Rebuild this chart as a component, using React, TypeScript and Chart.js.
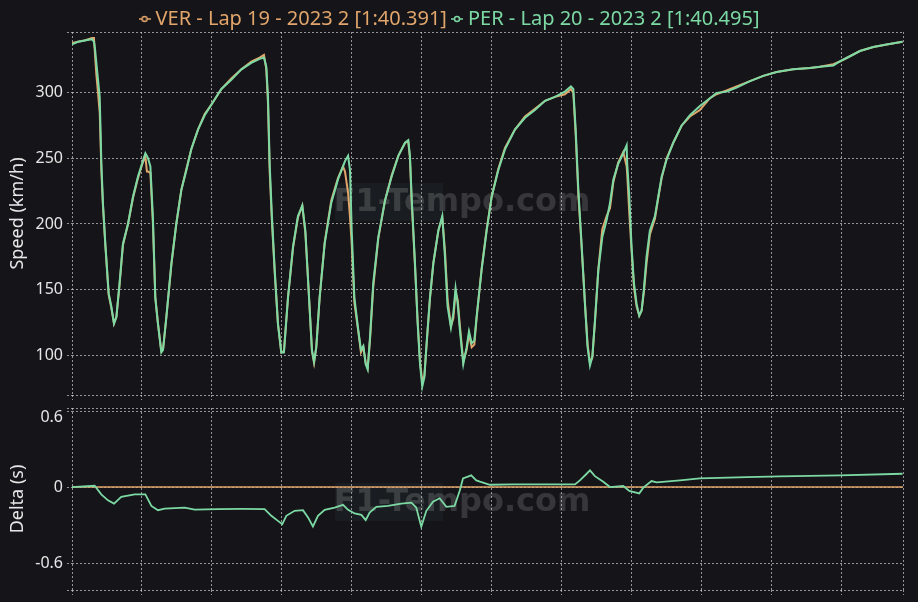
import React, { useEffect, useRef } from 'react';
import { Chart, registerables } from 'chart.js';

Chart.register(...registerables);

// ---------- data ----------
const LAP_LENGTH = 5936;
const distanceTicks = [0, 500, 1000, 1500, 2000, 2500, 3000, 3500, 4000, 4500, 5000, 5500];
const speedTicks = [100, 150, 200, 250, 300];
const deltaTicks = [-0.6, 0, 0.6];

const seriesLabels = ['VER - Lap 19 - 2023 2 [1:40.391]', 'PER - Lap 20 - 2023 2 [1:40.495]'];

const distance = [
  0, 43, 90, 143, 157, 165, 174, 186, 198, 210, 221, 238, 262, 281, 300, 317, 340, 364, 400, 436,
  471, 500, 524, 535, 543, 560, 578, 595, 614, 638, 650, 674, 710, 745, 781, 817, 852, 900, 948, 995,
  1067, 1138, 1210, 1281, 1340, 1371, 1388, 1400, 1412, 1428, 1448, 1471, 1495, 1514, 1543, 1579, 1614, 1645, 1667, 1690,
  1714, 1729, 1745, 1769, 1805, 1852, 1900, 1936, 1950, 1972, 1986, 1998, 2017, 2045, 2064, 2081, 2098, 2112, 2129, 2152,
  2188, 2236, 2283, 2331, 2379, 2402, 2414, 2426, 2450, 2469, 2486, 2502, 2517, 2533, 2557, 2581, 2617, 2645, 2664, 2683,
  2707, 2724, 2740, 2755, 2771, 2795, 2819, 2836, 2855, 2874, 2890, 2926, 2962, 2998, 3045, 3093, 3164, 3236, 3307, 3379,
  3450, 3521, 3564, 3581, 3598, 3617, 3640, 3664, 3683, 3700, 3717, 3736, 3760, 3788, 3819, 3843, 3867, 3902, 3938, 3962,
  3966, 3981, 3997, 4014, 4033, 4052, 4069, 4085, 4104, 4128, 4164, 4188, 4212, 4247, 4295, 4354, 4414, 4485, 4557, 4604,
  4676, 4747, 4843, 4938, 5033, 5152, 5271, 5343, 5438, 5485, 5557, 5628, 5724, 5819, 5933,
];

const verSpeed = [
  338, 339, 340, 342, 342, 328, 314, 300, 285, 240, 214, 184, 146, 136, 124, 129, 154, 184, 200, 220,
  235, 245, 252, 240, 240, 239, 200, 144, 124, 103, 104, 129, 169, 200, 226, 242, 257, 272, 284, 291,
  303, 311, 318, 324, 327, 329, 318, 292, 240, 202, 163, 124, 102, 103, 144, 182, 205, 214, 193, 150,
  103, 94, 106, 144, 186, 218, 235, 244, 240, 224, 205, 185, 140, 118, 102, 106, 94, 90, 112, 152,
  189, 218, 237, 252, 262, 263, 250, 218, 168, 126, 95, 80, 84, 108, 143, 170, 195, 205, 180, 142,
  122, 128, 148, 142, 122, 95, 104, 116, 106, 108, 128, 166, 196, 221, 242, 258, 272, 282, 288, 294,
  297, 299, 303, 300, 268, 222, 183, 140, 108, 94, 98, 126, 166, 196, 206, 212, 232, 247, 255, 244,
  238, 208, 180, 152, 137, 130, 134, 148, 170, 192, 204, 220, 235, 250, 262, 275, 282, 287, 296, 299,
  302, 305, 309, 313, 316, 318, 319, 320, 322, 324, 328, 332, 335, 337, 339,
];

const perSpeed = [
  337, 339, 340, 341, 339, 333, 323, 310, 297, 246, 216, 185, 147, 137, 124, 129, 155, 185, 200, 221,
  236, 246, 254, 252, 250, 244, 205, 144, 124, 102, 104, 129, 170, 200, 226, 241, 257, 272, 283, 291,
  303, 310, 318, 323, 326, 327, 320, 297, 246, 206, 165, 124, 102, 102, 144, 183, 206, 214, 195, 150,
  104, 95, 106, 144, 185, 216, 234, 244, 248, 252, 241, 195, 144, 119, 104, 107, 93, 89, 114, 155,
  190, 218, 236, 252, 262, 264, 252, 221, 170, 124, 93, 76, 83, 109, 144, 170, 195, 206, 175, 137,
  121, 132, 151, 139, 119, 93, 106, 118, 109, 111, 129, 165, 195, 221, 241, 257, 272, 281, 287, 294,
  297, 301, 305, 303, 272, 226, 185, 139, 106, 92, 99, 127, 165, 190, 203, 216, 234, 246, 254, 260,
  246, 221, 183, 155, 139, 130, 134, 150, 175, 195, 206, 221, 236, 249, 262, 275, 283, 290, 296, 300,
  301, 304, 309, 313, 316, 318, 319, 320, 321, 324, 328, 332, 335, 337, 339,
];

const deltaDistance = [
  0, 162, 209, 257, 300, 352, 448, 524, 567, 614, 662, 805, 876, 1043, 1210, 1376, 1424, 1471, 1502, 1531,
  1590, 1650, 1686, 1721, 1757, 1805, 1876, 1936, 1972, 2019, 2067, 2098, 2126, 2174, 2257, 2352, 2424, 2459, 2495, 2531,
  2579, 2626, 2674, 2733, 2769, 2793, 2852, 2888, 2914, 2985, 3152, 3390, 3593, 3628, 3671, 3700, 3735, 3795, 3843, 3938,
  3981, 4052, 4081, 4140, 4176, 4343, 4485, 4819, 5057, 5486, 5933,
];

const perDelta = [
  0, 0.01, -0.058, -0.105, -0.131, -0.078, -0.058, -0.058, -0.149, -0.183, -0.17, -0.162, -0.178, -0.175, -0.173, -0.175, -0.227, -0.267, -0.293, -0.227,
  -0.188, -0.183, -0.24, -0.311, -0.227, -0.18, -0.162, -0.141, -0.18, -0.209, -0.22, -0.261, -0.201, -0.157, -0.149, -0.131, -0.123, -0.162, -0.314, -0.188,
  -0.115, -0.089, -0.157, -0.149, -0.031, 0.068, 0.092, 0.052, 0.042, 0.018, 0.021, 0.021, 0.021, 0.052, 0.099, 0.131, 0.086, 0.042, 0, 0.008,
  -0.031, -0.05, -0.005, 0.047, 0.037, 0.052, 0.068, 0.078, 0.084, 0.092, 0.105,
];

const verDeltaDistance = [0, LAP_LENGTH];
const verDelta = [0, 0];

// ---------- styles ----------
const BG = '#151519';
const GRID = 'rgba(200,200,200,0.72)';
const TEXT = '#e6e6e6';
const VER_C = '#e2a56b';
const PER_C = '#7cd9a4';
const FONT = '"Noto Sans", "Open Sans", sans-serif';

function makeMarker(color: string) {
  const c = document.createElement('canvas');
  c.width = 12;
  c.height = 8;
  const g = c.getContext('2d')!;
  g.strokeStyle = color;
  g.lineWidth = 1.5;
  g.beginPath();
  g.moveTo(0, 4);
  g.lineTo(12, 4);
  g.stroke();
  g.beginPath();
  g.arc(6, 4, 2.5, 0, Math.PI * 2);
  g.fillStyle = BG;
  g.fill();
  g.stroke();
  return c;
}

const watermark = {
  id: 'watermark',
  beforeDatasetsDraw(chart: any, _args: any, opts: any) {
    const { ctx } = chart;
    ctx.save();
    ctx.fillStyle = 'rgba(70,110,110,0.10)';
    ctx.fillRect(opts.x - 127, opts.y - 20, 108, 38);
    ctx.font = 'bold 32px "DejaVu Sans", sans-serif';
    ctx.fillStyle = 'rgba(255,255,255,0.15)';
    ctx.textAlign = 'center';
    ctx.textBaseline = 'middle';
    ctx.fillText('F1-Tempo.com', opts.x, opts.y);
    ctx.restore();
  },
};

const xScale = () => ({
  type: 'linear',
  min: 0,
  max: LAP_LENGTH,
  border: { display: false, dash: [2, 2] },
  grid: { color: GRID, lineWidth: 1, tickLength: 5, drawTicks: true, tickBorderDash: [2, 2] },
  ticks: { display: false },
  afterBuildTicks: (s: any) => {
    s.ticks = [...distanceTicks, LAP_LENGTH].map((v) => ({ value: v }));
  },
});

export default function App() {
  const topRef = useRef<HTMLCanvasElement>(null);
  const botRef = useRef<HTMLCanvasElement>(null);

  useEffect(() => {
    const verMarker = makeMarker(VER_C);
    const perMarker = makeMarker(PER_C);

    const speedMin = 69.5;
    const speedMax = 346.5;

    const top = new Chart(topRef.current!, {
      type: 'line',
      data: {
        datasets: [
          {
            label: seriesLabels[0],
            data: distance.map((d, i) => ({ x: d, y: verSpeed[i] })),
            borderColor: VER_C,
            backgroundColor: VER_C,
            borderWidth: 2,
            pointRadius: 0,
            pointStyle: verMarker as any,
            tension: 0,
            order: 1,
          },
          {
            label: seriesLabels[1],
            data: distance.map((d, i) => ({ x: d, y: perSpeed[i] })),
            borderColor: PER_C,
            backgroundColor: PER_C,
            borderWidth: 2,
            pointRadius: 0,
            pointStyle: perMarker as any,
            tension: 0,
            order: 0,
          },
        ],
      },
      options: {
        animation: false,
        responsive: false,
        maintainAspectRatio: false,
        layout: { padding: { left: 0, right: 15, top: 0, bottom: 10 } },
        plugins: {
          legend: {
            position: 'top',
            maxHeight: 32,
            labels: {
              usePointStyle: true,
              boxWidth: 2,
              padding: 9,
              font: { family: FONT, size: 20 },
              generateLabels: (chart: any) =>
                chart.data.datasets.map((ds: any, i: number) => ({
                  text: ds.label,
                  fontColor: ds.borderColor,
                  fillStyle: ds.borderColor,
                  strokeStyle: ds.borderColor,
                  pointStyle: ds.pointStyle,
                  lineWidth: 0,
                  hidden: false,
                  datasetIndex: i,
                })),
            },
          },
          tooltip: { enabled: false },
          watermark: { x: 462, y: 203 },
        } as any,
        scales: {
          x: xScale() as any,
          y: {
            min: speedMin,
            max: speedMax,
            border: { display: false, dash: [2, 2] },
            grid: { color: GRID, lineWidth: 1, tickLength: 5, tickBorderDash: [2, 2] },
            afterBuildTicks: (s: any) => {
              s.ticks = [speedMin, ...speedTicks, speedMax].map((v) => ({ value: v }));
            },
            afterFit: (s: any) => {
              s.width = 72;
            },
            ticks: {
              color: TEXT,
              padding: 4,
              font: { family: FONT, size: 16 },
              callback: (v: any) => (speedTicks.includes(v) ? String(v) : ''),
            },
            title: {
              display: true,
              text: 'Speed (km/h)',
              color: TEXT,
              font: { family: FONT, size: 18 },
              padding: { top: 7, bottom: 0 },
            },
          },
        },
      },
      plugins: [watermark],
    });

    const dMin = -0.813;
    const dMax = 0.624;
    const topDeltaTick = deltaTicks[deltaTicks.length - 1];

    const bottom = new Chart(botRef.current!, {
      type: 'line',
      data: {
        datasets: [
          {
            label: 'VER',
            data: verDeltaDistance.map((d, i) => ({ x: d, y: verDelta[i] })),
            borderColor: VER_C,
            borderWidth: 1.5,
            pointRadius: 0,
            tension: 0,
            order: 1,
          },
          {
            label: 'PER',
            data: deltaDistance.map((d, i) => ({ x: d, y: perDelta[i] })),
            borderColor: PER_C,
            borderWidth: 1.8,
            pointRadius: 0,
            tension: 0,
            order: 0,
          },
        ],
      },
      options: {
        animation: false,
        responsive: false,
        maintainAspectRatio: false,
        layout: { padding: { left: 0, right: 15, top: 18, bottom: 11 } },
        plugins: {
          legend: { display: false },
          tooltip: { enabled: false },
          watermark: { x: 462, y: 113 },
        } as any,
        scales: {
          x: xScale() as any,
          y: {
            min: dMin,
            max: dMax,
            border: { display: false, dash: [2, 2] },
            grid: { color: GRID, lineWidth: 1, tickLength: 5, tickBorderDash: [2, 2] },
            afterBuildTicks: (s: any) => {
              s.ticks = [dMin, ...deltaTicks, dMax].map((v) => ({ value: v }));
            },
            afterFit: (s: any) => {
              s.width = 72;
            },
            ticks: {
              color: TEXT,
              padding: 4,
              font: (c: any) => ({
                family: FONT,
                size: 16,
                lineHeight: c.tick && c.tick.value === topDeltaTick ? '13px' : 1.2,
              }),
              callback: (v: any) =>
                v === topDeltaTick ? ['', String(v)] : deltaTicks.includes(v) ? String(v) : '',
            },
            title: {
              display: true,
              text: 'Delta (s)',
              color: TEXT,
              font: { family: FONT, size: 18 },
              padding: { top: 7, bottom: 0 },
            },
          },
        },
      },
      plugins: [watermark],
    });

    return () => {
      top.destroy();
      bottom.destroy();
    };
  }, []);

  return (
    <div style={{ position: 'fixed', left: 0, top: 0, width: 918, height: 602, background: BG, overflow: 'hidden' }}>
      <canvas ref={topRef} width={918} height={410} style={{ position: 'absolute', left: 0, top: 0, width: 918, height: 410 }} />
      <canvas ref={botRef} width={918} height={216} style={{ position: 'absolute', left: 0, top: 390, width: 918, height: 216 }} />
    </div>
  );
}
